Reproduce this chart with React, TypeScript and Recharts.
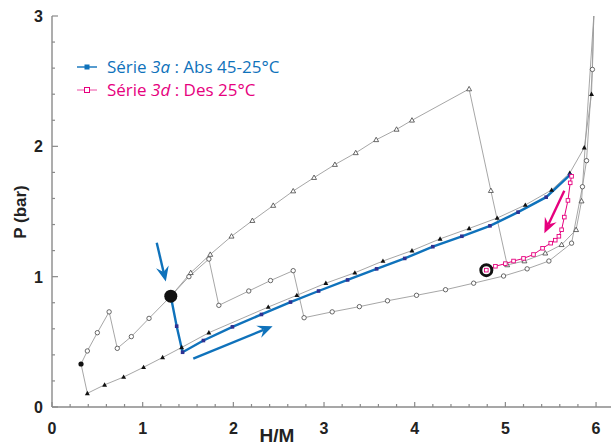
import { ComposedChart, Line, XAxis, YAxis, ReferenceLine, Legend } from 'recharts';

// abs (other temperature) - filled triangles
const absTri = [
    { x: 0.32, y: 0.33 }, { x: 0.39, y: 0.105 }, { x: 0.58, y: 0.17 }, { x: 0.79, y: 0.23 },
    { x: 1.01, y: 0.305 }, { x: 1.22, y: 0.38 }, { x: 1.43, y: 0.457 }, { x: 1.73, y: 0.57 },
    { x: 2.385, y: 0.767 }, { x: 2.7, y: 0.857 }, { x: 3.02, y: 0.95 }, { x: 3.34, y: 1.03 },
    { x: 3.65, y: 1.12 }, { x: 3.97, y: 1.2 }, { x: 4.28, y: 1.29 }, { x: 4.6, y: 1.37 },
    { x: 4.91, y: 1.45 }, { x: 5.22, y: 1.55 }, { x: 5.51, y: 1.665 }, { x: 5.71, y: 1.795 },
    { x: 5.87, y: 1.99 }, { x: 5.95, y: 2.4 }, { x: 5.975, y: 3.0 },
];

// sawtooth - open circles
const sawCircle = [
    { x: 0.32, y: 0.33 }, { x: 0.39, y: 0.43 }, { x: 0.5, y: 0.57 }, { x: 0.63, y: 0.73 },
    { x: 0.72, y: 0.45 }, { x: 0.875, y: 0.54 }, { x: 1.07, y: 0.68 }, { x: 1.31, y: 0.85 },
    { x: 1.51, y: 1.0 }, { x: 1.73, y: 1.135 }, { x: 1.84, y: 0.78 }, { x: 2.17, y: 0.89 },
    { x: 2.41, y: 0.97 }, { x: 2.66, y: 1.046 }, { x: 2.78, y: 0.685 }, { x: 3.09, y: 0.73 },
    { x: 3.39, y: 0.77 }, { x: 3.7, y: 0.815 }, { x: 4.02, y: 0.857 }, { x: 4.34, y: 0.9 },
    { x: 4.65, y: 0.95 }, { x: 4.98, y: 1.005 }, { x: 5.24, y: 1.06 }, { x: 5.48, y: 1.12 },
    { x: 5.73, y: 1.257 }, { x: 5.85, y: 1.69 }, { x: 5.895, y: 1.89 }, { x: 5.96, y: 2.59 },
    { x: 5.975, y: 3.0 },
];

// open triangles
const openTri = [
    { x: 1.31, y: 0.85 }, { x: 1.53, y: 1.03 }, { x: 1.745, y: 1.17 }, { x: 1.98, y: 1.31 },
    { x: 2.21, y: 1.43 }, { x: 2.44, y: 1.546 }, { x: 2.66, y: 1.657 }, { x: 2.89, y: 1.76 },
    { x: 3.12, y: 1.86 }, { x: 3.35, y: 1.95 }, { x: 3.575, y: 2.05 }, { x: 3.8, y: 2.13 },
    { x: 3.97, y: 2.2 }, { x: 4.6, y: 2.44 }, { x: 4.84, y: 1.66 }, { x: 5.02, y: 1.09 },
    { x: 5.21, y: 1.12 }, { x: 5.44, y: 1.18 }, { x: 5.62, y: 1.245 }, { x: 5.78, y: 1.36 },
    { x: 5.84, y: 1.58 }, { x: 5.975, y: 3.0 },
];

// Série 3a : Abs 45-25°C (first point = start, drawn as big black dot)
const serie3a = [
    { x: 1.31, y: 0.85 }, { x: 1.375, y: 0.62 }, { x: 1.44, y: 0.42 }, { x: 1.67, y: 0.51 },
    { x: 1.99, y: 0.615 }, { x: 2.31, y: 0.71 }, { x: 2.63, y: 0.805 }, { x: 2.94, y: 0.89 },
    { x: 3.26, y: 0.975 }, { x: 3.58, y: 1.06 }, { x: 3.89, y: 1.14 }, { x: 4.2, y: 1.23 },
    { x: 4.52, y: 1.31 }, { x: 4.83, y: 1.39 }, { x: 5.14, y: 1.495 }, { x: 5.45, y: 1.61 },
    { x: 5.71, y: 1.78 },
];

// Série 3d : Des 25°C (last point = end, drawn as black ring)
const serie3d = [
    { x: 5.73, y: 1.77 }, { x: 5.715, y: 1.72 }, { x: 5.69, y: 1.585 }, { x: 5.65, y: 1.457 },
    { x: 5.62, y: 1.36 }, { x: 5.59, y: 1.31 }, { x: 5.55, y: 1.28 }, { x: 5.5, y: 1.257 },
    { x: 5.41, y: 1.218 }, { x: 5.31, y: 1.17 }, { x: 5.2, y: 1.14 }, { x: 5.09, y: 1.12 },
    { x: 5.0, y: 1.1 }, { x: 4.89, y: 1.08 }, { x: 4.79, y: 1.05 },
];

// arrows (data coords)
const arrowDown = [{ x: 1.155, y: 1.26 }, { x: 1.255, y: 0.963 }];
const arrowUp = [{ x: 1.558, y: 0.372 }, { x: 2.433, y: 0.62 }];
const arrowDes = [{ x: 5.65, y: 1.66 }, { x: 5.43, y: 1.334 }];

const xTicks = [0, 0.2, 0.4, 0.6, 0.8, 1, 1.2, 1.4, 1.6, 1.8, 2, 2.2, 2.4, 2.6, 2.8, 3, 3.2, 3.4, 3.6, 3.8, 4, 4.2, 4.4, 4.6, 4.8, 5, 5.2, 5.4, 5.6, 5.8, 6];
const yTicks = [0, 0.2, 0.4, 0.6, 0.8, 1, 1.2, 1.4, 1.6, 1.8, 2, 2.2, 2.4, 2.6, 2.8, 3];

const AXIS = '#8a8a8a';
const GRAY = '#9c9c9c';
const BLUE = '#0f72bb';
const PINK = '#e6007e';
const LABEL_FONT = '"Liberation Sans", Arial, sans-serif';

const isMajor = (v: number) => Math.abs(v - Math.round(v)) < 1e-6;

const BottomTick = (props: any) => {
    const { x, y, payload } = props;
    const v = payload.value;
    const major = isMajor(v);
    return (
        <g>
            <line x1={x} y1={y} x2={x} y2={y - (major ? 5 : 3)} stroke={AXIS} strokeWidth={1.2} />
            {major && (
                <text x={x} y={y + 27} textAnchor="middle" fontFamily={LABEL_FONT} fontWeight="bold" fontSize={16} fill="#222">{v}</text>
            )}
        </g>
    );
};

const TopTick = (props: any) => {
    const { x, y, payload } = props;
    const major = isMajor(payload.value);
    return <line x1={x} y1={y} x2={x} y2={y + (major ? 5 : 3)} stroke={AXIS} strokeWidth={1.2} />;
};

const LeftTick = (props: any) => {
    const { x, y, payload } = props;
    const v = payload.value;
    const major = isMajor(v);
    return (
        <g>
            <line x1={x} y1={y} x2={x + (major ? 6 : 3)} y2={y} stroke={AXIS} strokeWidth={1.2} />
            {major && (
                <text x={x - 9} y={y + 6} textAnchor="end" fontFamily={LABEL_FONT} fontWeight="bold" fontSize={16} fill="#222">{v}</text>
            )}
        </g>
    );
};

const RightTick = (props: any) => {
    const { x, y, payload } = props;
    const major = isMajor(payload.value);
    return <line x1={x} y1={y} x2={x - (major ? 6 : 3)} y2={y} stroke={AXIS} strokeWidth={1.2} />;
};

const triPath = (cx: number, cy: number, s: number) =>
    `M${cx},${cy - s}L${cx + s * 0.95},${cy + s * 0.7}L${cx - s * 0.95},${cy + s * 0.7}Z`;

// the last point of each gray series is where the curve leaves the frame: no marker
const filledTriDot = (p: any) => {
    if (p.index === absTri.length - 1) return <g key={`ft-${p.index}`} />;
    if (p.index === 0) {
        return <circle key={`ft-${p.index}`} cx={p.cx} cy={p.cy} r={2.6} fill="#111" />;
    }
    return <path key={`ft-${p.index}`} d={triPath(p.cx, p.cy, 2.6)} fill="#111" />;
};

const openTriDot = (p: any) => {
    if (p.index === 0 || p.index === openTri.length - 1) return <g key={`ot-${p.index}`} />;
    return <path key={`ot-${p.index}`} d={triPath(p.cx, p.cy, 2.6)} fill="#fff" stroke="#444" strokeWidth={0.8} />;
};

const openCircleDot = (p: any) => {
    if (p.index === 0 || p.index === sawCircle.length - 1) return <g key={`oc-${p.index}`} />;
    return <circle key={`oc-${p.index}`} cx={p.cx} cy={p.cy} r={2.2} fill="#fff" stroke="#444" strokeWidth={0.8} />;
};

const blueDot = (p: any) => {
    if (p.index === 0) return <circle key={`b-${p.index}`} cx={p.cx} cy={p.cy} r={6.5} fill="#111" />;
    return <rect key={`b-${p.index}`} x={p.cx - 1.8} y={p.cy - 1.8} width={3.6} height={3.6} fill="#2e3192" />;
};

const pinkDot = (p: any) => {
    if (p.index === serie3d.length - 1) {
        return (
            <g key={`p-${p.index}`}>
                <circle cx={p.cx} cy={p.cy} r={5.5} fill="#fff" stroke="#111" strokeWidth={3} />
                <rect x={p.cx - 1.8} y={p.cy - 1.8} width={3.6} height={3.6} fill="#fff" stroke={PINK} strokeWidth={0.9} />
            </g>
        );
    }
    return <rect key={`p-${p.index}`} x={p.cx - 1.8} y={p.cy - 1.8} width={3.6} height={3.6} fill="#fff" stroke={PINK} strokeWidth={0.9} />;
};

const arrowShape = (color: string) => (props: any) => {
    const { x1, y1, x2, y2 } = props;
    const ang = Math.atan2(y2 - y1, x2 - x1);
    const ux = Math.cos(ang), uy = Math.sin(ang);
    const nx = -uy, ny = ux;
    const len = 15, hw = 6.5;
    const bx = x2 - ux * len, by = y2 - uy * len;
    const mx = x2 - ux * len * 0.65, my = y2 - uy * len * 0.65;
    const head = `M${x2},${y2}L${bx + nx * hw},${by + ny * hw}L${mx},${my}L${bx - nx * hw},${by - ny * hw}Z`;
    return (
        <g>
            <line x1={x1} y1={y1} x2={mx} y2={my} stroke={color} strokeWidth={2.4} />
            <path d={head} fill={color} />
        </g>
    );
};

const LegendBox = () => (
    <div style={{ fontFamily: '"Open Sans", "Noto Sans", sans-serif', fontSize: 17, lineHeight: '23px' }}>
        <div style={{ display: 'flex', alignItems: 'center', color: BLUE }}>
            <svg width={30} height={23}>
                <line x1={0} y1={12} x2={20} y2={12} stroke={BLUE} strokeWidth={1.4} />
                <rect x={7.5} y={9.5} width={5} height={5} fill={BLUE} />
            </svg>
            <span>Série <i>3a</i> : Abs 45-25°C</span>
        </div>
        <div style={{ display: 'flex', alignItems: 'center', color: PINK }}>
            <svg width={30} height={23}>
                <line x1={0} y1={12} x2={20} y2={12} stroke={PINK} strokeWidth={1} strokeOpacity={0.7} />
                <rect x={7.5} y={9.5} width={5} height={5} fill="#fff" stroke={PINK} strokeWidth={1} />
            </svg>
            <span>Série <i>3d</i> : Des 25°C</span>
        </div>
    </div>
);

export default function App() {
    return (
        <div style={{ position: 'absolute', left: 0, top: 0, width: 611, height: 445, overflow: 'hidden', background: '#fff' }}>
            <ComposedChart width={616} height={445} margin={{ top: 16, right: 0, bottom: 0, left: 0 }}>
                <XAxis
                    dataKey="x"
                    type="number"
                    domain={[0, 6.22]}
                    ticks={xTicks}
                    interval={0}
                    height={38}
                    tickSize={0}
                    tickMargin={0}
                    tickLine={false}
                    tick={<BottomTick />}
                    axisLine={{ stroke: AXIS, strokeWidth: 1.4 }}
                    allowDataOverflow
                    label={{
                        content: (p: any) => (
                            <text x={p.viewBox.x + 225} y={p.viewBox.y + 35} textAnchor="middle" fontFamily={LABEL_FONT} fontWeight="bold" fontSize={19} fill="#222">H/M</text>
                        ),
                    }}
                />
                <XAxis
                    xAxisId="top"
                    orientation="top"
                    dataKey="x"
                    type="number"
                    domain={[0, 6.22]}
                    ticks={xTicks}
                    interval={0}
                    height={0}
                    tickSize={0}
                    tickMargin={0}
                    tickLine={false}
                    tick={<TopTick />}
                    axisLine={{ stroke: AXIS, strokeWidth: 1.4 }}
                    allowDataOverflow
                />
                <YAxis
                    type="number"
                    domain={[0, 3]}
                    ticks={yTicks}
                    interval={0}
                    width={52}
                    tickSize={0}
                    tickMargin={0}
                    tickLine={false}
                    tick={<LeftTick />}
                    axisLine={{ stroke: AXIS, strokeWidth: 1.4 }}
                    allowDataOverflow
                    label={{
                        content: () => (
                            <text x={26} y={212} transform="rotate(-90 26 212)" textAnchor="middle" fontFamily={LABEL_FONT} fontWeight="bold" fontSize={17} fill="#222">P (bar)</text>
                        ),
                    }}
                />
                <YAxis
                    yAxisId="right"
                    orientation="right"
                    type="number"
                    domain={[0, 3]}
                    ticks={yTicks}
                    interval={0}
                    width={0}
                    tickSize={0}
                    tickMargin={0}
                    tickLine={false}
                    tick={<RightTick />}
                    axisLine={{ stroke: AXIS, strokeWidth: 1.4 }}
                    allowDataOverflow
                />
                <Legend
                    layout="vertical"
                    align="center"
                    verticalAlign="middle"
                    content={() => <LegendBox />}
                    wrapperStyle={{ position: 'absolute', left: 77, top: 55, width: 320 }}
                />
                <ReferenceLine segment={arrowDown} shape={arrowShape(BLUE)} />
                <ReferenceLine segment={arrowUp} shape={arrowShape(BLUE)} />
                <ReferenceLine segment={arrowDes} shape={arrowShape(PINK)} />
                <Line data={sawCircle} dataKey="y" type="linear" stroke={GRAY} strokeWidth={0.9} dot={openCircleDot} activeDot={false} isAnimationActive={false} legendType="none" />
                <Line data={openTri} dataKey="y" type="linear" stroke={GRAY} strokeWidth={0.9} dot={openTriDot} activeDot={false} isAnimationActive={false} legendType="none" />
                <Line data={absTri} dataKey="y" type="linear" stroke={GRAY} strokeWidth={0.9} dot={filledTriDot} activeDot={false} isAnimationActive={false} legendType="none" />
                <Line data={serie3a} dataKey="y" type="linear" stroke={BLUE} strokeWidth={2.4} dot={blueDot} activeDot={false} isAnimationActive={false} name="Série 3a" />
                <Line data={serie3d} dataKey="y" type="linear" stroke={PINK} strokeWidth={1} dot={pinkDot} activeDot={false} isAnimationActive={false} name="Série 3d" />
            </ComposedChart>
        </div>
    );
}
